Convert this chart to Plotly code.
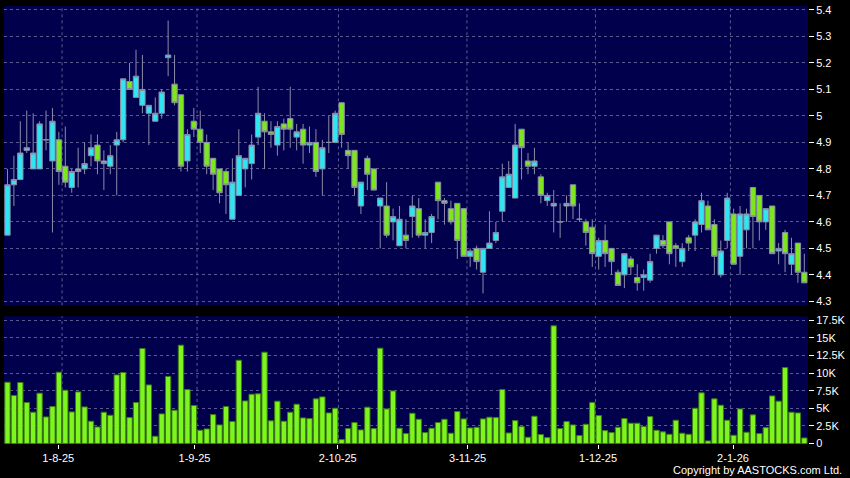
import plotly.graph_objects as go

# ---------------- data ----------------
opens = [4.55, 4.74, 4.76, 4.87, 4.80, 4.80, 4.91, 4.83, 4.91, 4.81,
         4.73, 4.80, 4.80, 4.85, 4.89, 4.83, 4.81, 4.89, 4.91, 5.13,
         5.07, 5.04, 5.01, 4.98, 5.01, 5.22, 5.12, 5.08, 4.83, 4.98,
         4.95, 4.90, 4.84, 4.80, 4.79, 4.61, 4.70, 4.80, 4.82, 4.92,
         4.98, 4.94, 4.89, 4.97, 4.99, 4.92, 4.95, 4.89, 4.90, 4.80,
         4.90, 4.90, 5.05, 4.87, 4.87, 4.66, 4.84, 4.80, 4.66, 4.66,
         4.60, 4.51, 4.55, 4.62, 4.65, 4.55, 4.56, 4.75, 4.68, 4.65,
         4.67, 4.65, 4.47, 4.50, 4.41, 4.50, 4.53, 4.64, 4.73, 4.69,
         4.95, 4.83, 4.81, 4.77, 4.68, 4.66, 4.60, 4.66, 4.74, 4.61,
         4.60, 4.58, 4.47, 4.53, 4.50, 4.41, 4.40, 4.46, 4.39, 4.39,
         4.38, 4.50, 4.53, 4.60, 4.51, 4.45, 4.54, 4.55, 4.59, 4.66,
         4.59, 4.40, 4.53, 4.63, 4.47, 4.57, 4.73, 4.70, 4.60, 4.66,
         4.49, 4.56, 4.44, 4.52, 4.41]
highs = [4.80, 4.85, 4.98, 5.02, 5.01, 4.98, 5.02, 5.03, 4.94, 4.96,
         4.80, 4.88, 4.90, 4.93, 4.93, 4.87, 4.89, 4.94, 5.14, 5.20,
         5.25, 5.23, 5.04, 5.07, 5.10, 5.36, 5.23, 5.08, 4.95, 5.03,
         5.02, 4.93, 4.84, 4.80, 4.80, 4.84, 4.95, 4.84, 4.93, 5.11,
         5.01, 4.98, 4.98, 4.99, 5.11, 4.97, 4.97, 4.96, 4.95, 4.91,
         5.00, 5.02, 5.05, 4.90, 4.87, 4.75, 4.85, 4.80, 4.69, 4.75,
         4.65, 4.66, 4.61, 4.70, 4.69, 4.61, 4.63, 4.75, 4.69, 4.68,
         4.67, 4.65, 4.50, 4.51, 4.50, 4.64, 4.60, 4.82, 4.83, 4.97,
         4.95, 4.86, 4.88, 4.78, 4.71, 4.72, 4.67, 4.70, 4.74, 4.67,
         4.61, 4.61, 4.54, 4.59, 4.50, 4.42, 4.48, 4.47, 4.44, 4.42,
         4.48, 4.55, 4.55, 4.60, 4.52, 4.52, 4.55, 4.61, 4.71, 4.68,
         4.61, 4.53, 4.71, 4.65, 4.66, 4.65, 4.73, 4.70, 4.65, 4.66,
         4.52, 4.57, 4.54, 4.52, 4.48]
lows = [4.55, 4.66, 4.76, 4.86, 4.80, 4.80, 4.87, 4.56, 4.74, 4.73,
        4.71, 4.73, 4.78, 4.81, 4.78, 4.72, 4.78, 4.70, 4.90, 5.10,
        5.07, 5.01, 4.89, 4.98, 4.99, 5.15, 5.04, 4.79, 4.79, 4.92,
        4.86, 4.78, 4.72, 4.67, 4.63, 4.61, 4.70, 4.73, 4.76, 4.89,
        4.80, 4.88, 4.85, 4.87, 4.88, 4.87, 4.82, 4.86, 4.77, 4.70,
        4.86, 4.90, 4.88, 4.80, 4.70, 4.63, 4.72, 4.72, 4.50, 4.54,
        4.53, 4.51, 4.50, 4.54, 4.54, 4.50, 4.52, 4.61, 4.59, 4.59,
        4.46, 4.47, 4.43, 4.42, 4.33, 4.50, 4.52, 4.60, 4.73, 4.69,
        4.76, 4.78, 4.78, 4.67, 4.66, 4.56, 4.54, 4.60, 4.61, 4.60,
        4.51, 4.43, 4.42, 4.43, 4.40, 4.36, 4.35, 4.40, 4.34, 4.34,
        4.37, 4.48, 4.50, 4.44, 4.43, 4.43, 4.49, 4.49, 4.56, 4.57,
        4.40, 4.39, 4.50, 4.44, 4.40, 4.50, 4.50, 4.53, 4.57, 4.48,
        4.44, 4.41, 4.40, 4.37, 4.37]
closes = [4.74, 4.76, 4.86, 4.88, 4.86, 4.97, 4.91, 4.98, 4.79, 4.75,
          4.79, 4.79, 4.82, 4.88, 4.83, 4.82, 4.85, 4.91, 5.14, 5.10,
          5.15, 5.10, 5.04, 5.01, 5.09, 5.23, 5.05, 4.81, 4.93, 4.95,
          4.90, 4.81, 4.78, 4.71, 4.74, 4.75, 4.85, 4.84, 4.89, 5.01,
          4.94, 4.93, 4.96, 4.95, 4.95, 4.94, 4.89, 4.90, 4.79, 4.88,
          4.90, 5.01, 4.93, 4.85, 4.73, 4.75, 4.78, 4.72, 4.69, 4.55,
          4.62, 4.61, 4.53, 4.66, 4.55, 4.56, 4.62, 4.68, 4.67, 4.60,
          4.53, 4.47, 4.49, 4.45, 4.50, 4.52, 4.56, 4.77, 4.78, 4.89,
          4.88, 4.81, 4.83, 4.70, 4.70, 4.67, 4.60, 4.67, 4.66, 4.61,
          4.56, 4.48, 4.53, 4.48, 4.45, 4.36, 4.48, 4.43, 4.37, 4.40,
          4.45, 4.55, 4.51, 4.48, 4.50, 4.50, 4.52, 4.60, 4.68, 4.57,
          4.47, 4.49, 4.69, 4.44, 4.63, 4.63, 4.62, 4.60, 4.65, 4.48,
          4.50, 4.48, 4.48, 4.41, 4.37]
volumes = [8700, 6810, 8660, 5820, 4450, 7140, 3780, 5250, 10120, 7570,
           4490, 7330, 5200, 3170, 2360, 4450, 4020, 9740, 10070, 3690,
           5820, 13480, 8320, 1040, 4210, 9510, 4730, 13950, 7660, 5390,
           1890, 2080, 4110, 2650, 5250, 3120, 11820, 6050, 7000, 7050,
           12960, 3220, 6010, 3170, 4450, 5580, 3640, 3550, 6340, 6620,
           4350, 5010, 570, 2130, 2980, 1940, 5160, 2130, 13530, 4920,
           7470, 2180, 1420, 4300, 3450, 1560, 2180, 2980, 3450, 1470,
           4540, 3500, 2220, 2320, 3500, 3740, 3690, 7660, 1510, 3260,
           2410, 900, 3880, 1280, 850, 16700, 2130, 3120, 2650, 1140,
           2740, 5820, 3970, 1840, 1560, 2320, 3550, 2890, 2890, 2410,
           3830, 1890, 1660, 1320, 3310, 1470, 1320, 5010, 7190, 380,
           6340, 5440, 3310, 1180, 4920, 1610, 4070, 1420, 2270, 6760,
           6010, 10780, 4450, 4350, 800]

# trading-day index of each bar
days = list(range(len(closes)))

# month labels and where they sit on the day index
month_labels = ["1-8-25", "1-9-25", "2-10-25", "3-11-25", "1-12-25", "2-1-26"]
month_label_pos = [7.9, 29.1, 51.4, 71.6, 91.9, 112.9]
month_grid_pos = [8.5, 29.5, 51.5, 71.5, 91.5, 112.5]

price_ticks = [5.4, 5.3, 5.2, 5.1, 5.0, 4.9, 4.8, 4.7, 4.6, 4.5, 4.4, 4.3]
price_tick_text = ["5.4", "5.3", "5.2", "5.1", "5", "4.9", "4.8", "4.7",
                   "4.6", "4.5", "4.4", "4.3"]
vol_ticks = [17500, 15000, 12500, 10000, 7500, 5000, 2500, 0]
vol_tick_text = ["17.5K", "15K", "12.5K", "10K", "7.5K", "5K", "2.5K", "0"]

# ---------------- styling ----------------
NAVY = "#00004c"
GRID = "#5a5a90"
UP = "#2ee6f2"
DOWN = "#7ce61e"
EDGE = "#8c8ca8"
VOL = "#7df51e"
VOL_EDGE = "#3d7a12"
FONT = "Arial, Liberation Sans, sans-serif"

fig = go.Figure()

fig.add_trace(go.Candlestick(
    x=days, open=opens, high=highs, low=lows, close=closes,
    increasing=dict(fillcolor=UP, line=dict(color=EDGE, width=1)),
    decreasing=dict(fillcolor=DOWN, line=dict(color=EDGE, width=1)),
    whiskerwidth=0, xaxis="x", yaxis="y", showlegend=False,
    hoverinfo="skip",
))

fig.add_trace(go.Bar(
    x=days, y=volumes, marker=dict(color=VOL, line=dict(color=VOL_EDGE, width=1)),
    xaxis="x2", yaxis="y2", showlegend=False, hoverinfo="skip",
))

xr = [-0.54, 124.57]
axis_font = dict(family=FONT, size=11, color="white")

fig.update_layout(
    width=850, height=478,
    margin=dict(l=4, r=40, t=5, b=34),
    paper_bgcolor="black", plot_bgcolor=NAVY,
    boxgap=0.17, boxgroupgap=0, bargap=0.17,
    showlegend=False,
    xaxis=dict(domain=[0, 1], range=xr, anchor="y", showticklabels=False,
               showgrid=False, zeroline=False, rangeslider=dict(visible=False),
               ticks=""),
    yaxis=dict(domain=[0.3166, 1], range=[4.285, 5.415], side="right",
               tickvals=price_ticks, ticktext=price_tick_text,
               ticks="outside", ticklen=5, tickcolor="white",
               tickfont=axis_font, showgrid=True, gridcolor=GRID,
               griddash="3px,3px", gridwidth=1, zeroline=False, anchor="x"),
    xaxis2=dict(domain=[0, 1], range=xr, anchor="y2", matches="x",
                tickvals=month_label_pos, ticktext=month_labels,
                ticks="outside", ticklen=4, tickcolor="white",
                tickfont=axis_font, showgrid=False, zeroline=False),
    yaxis2=dict(domain=[0, 0.2916], range=[-60, 18050], side="right",
                tickvals=vol_ticks, ticktext=vol_tick_text,
                ticks="outside", ticklen=5, tickcolor="white",
                tickfont=axis_font, showgrid=True, gridcolor=GRID,
                griddash="3px,3px", gridwidth=1, zeroline=False, anchor="x2"),
)

shapes = []
for g in month_grid_pos:
    for xref, yref in (("x", "y domain"), ("x2", "y2 domain")):
        shapes.append(dict(type="line", xref=xref, yref=yref, x0=g, x1=g,
                           y0=0, y1=1, layer="below",
                           line=dict(color=GRID, width=1, dash="3px,3px")))
fig.update_layout(shapes=shapes)

fig.add_annotation(
    text="Copyright by AASTOCKS.com Ltd.", xref="paper", yref="paper",
    x=1.0447, y=-0.059, xanchor="right", yanchor="middle", showarrow=False,
    font=dict(family=FONT, size=11, color="white"),
)

fig.write_html("out.html",
               config={"displayModeBar": False, "staticPlot": True},
               post_script="document.body.style.margin='0';")
